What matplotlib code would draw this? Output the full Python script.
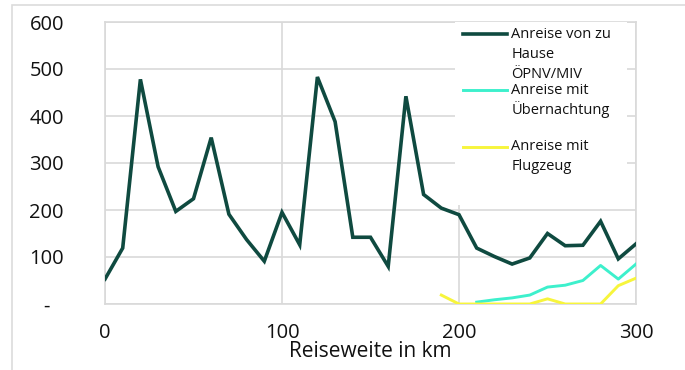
import matplotlib
matplotlib.use("Agg")
import matplotlib.pyplot as plt
from matplotlib.patches import Rectangle
from matplotlib.lines import Line2D

plt.rcParams['font.family'] = ['Open Sans', 'DejaVu Sans']

# ---- data ----
km_home = [0, 10, 20, 30, 40, 50, 60, 70, 80, 90, 100, 110, 120, 130, 140, 150,
           160, 170, 180, 190, 200, 210, 220, 230, 240, 250, 260, 270, 280, 290, 300]
home = [53, 119, 478, 292, 197, 224, 354, 191, 137, 91, 195, 126, 483, 388, 142, 142,
        80, 442, 233, 204, 190, 119, 101, 85, 98, 150, 124, 125, 176, 96, 128]
km_night = [210, 220, 230, 240, 250, 260, 270, 280, 290, 300]
night = [4, 9, 13, 19, 36, 40, 50, 82, 53, 85]
km_flight = [190, 200, 210, 220, 230, 240, 250, 260, 270, 280, 290, 300]
flight = [19, 0, 0, 0, 0, 0, 11, 0, 0, 0, 39, 55]

x_ticks = [0, 100, 200, 300]
y_ticks = [0, 100, 200, 300, 400, 500, 600]
y_tick_labels = ['-', '100', '200', '300', '400', '500', '600']
x_label = 'Reiseweite in km'
legend_lines = [['Anreise von zu', 'Hause', 'ÖPNV/MIV'],
                ['Anreise mit', 'Übernachtung'],
                ['Anreise mit', 'Flugzeug']]

c_home = '#0f4a40'
c_night = '#3df0cc'
c_flight = '#f7f53c'
grid_c = '#d9d9d9'
txt_c = '#111111'

fig = plt.figure(figsize=(6.85, 3.70), dpi=100)
W, H = 685, 370
# outer frame
fig.patches.append(Rectangle((12 / W, -0.1), 1.2, 1.1 - 5 / H, transform=fig.transFigure,
                             fill=False, edgecolor='#dcdcdc', linewidth=1.2))
ax = fig.add_axes([105 / W, 1 - 304 / H, (636 - 105) / W, (304 - 22) / H])

ax.plot(km_home, home, color=c_home, lw=2.6, solid_joinstyle='miter', zorder=3)
ax.plot(km_night, night, color=c_night, lw=2.1, zorder=3)
ax.plot(km_flight, flight, color=c_flight, lw=2.1, zorder=3)

ax.set_xlim(0, 300)
ax.set_ylim(0, 600)
ax.set_xticks(x_ticks)
ax.set_yticks(y_ticks)
ax.set_yticklabels(y_tick_labels)
ax.grid(True, color=grid_c, lw=1.2, zorder=0)
ax.set_axisbelow(True)
for s in ax.spines.values():
    s.set_color(grid_c)
    s.set_linewidth(1.2)
ax.tick_params(length=0, labelsize=14.5, colors=txt_c)
ax.tick_params(axis='x', pad=14)
ax.tick_params(axis='y', pad=42)
for lab in ax.get_yticklabels():
    lab.set_horizontalalignment('center')
ax.set_xlabel(x_label, fontsize=15, color=txt_c, labelpad=-2)

# legend (manual)
ax.add_patch(Rectangle((0.659, 0.35), 0.324, 0.65, transform=ax.transAxes,
                       facecolor='white', edgecolor='none', zorder=4))
cols = [c_home, c_night, c_flight]
line_y = [[34, 55, 74], [90, 110], [147, 167]]
for lines, ys, col in zip(legend_lines, line_y, cols):
    y0 = (304 - ys[0]) / 282
    ax.add_line(Line2D([0.674, 0.757], [y0, y0], transform=ax.transAxes,
                       color=col, lw=2.6 if col == c_home else 2.1, zorder=5))
    for t, yy in zip(lines, ys):
        ax.text(0.765, (304 - yy) / 282, t, transform=ax.transAxes, fontsize=10.5,
                color=txt_c, va='center', ha='left', zorder=6)

fig.savefig('out.png', dpi=100)
